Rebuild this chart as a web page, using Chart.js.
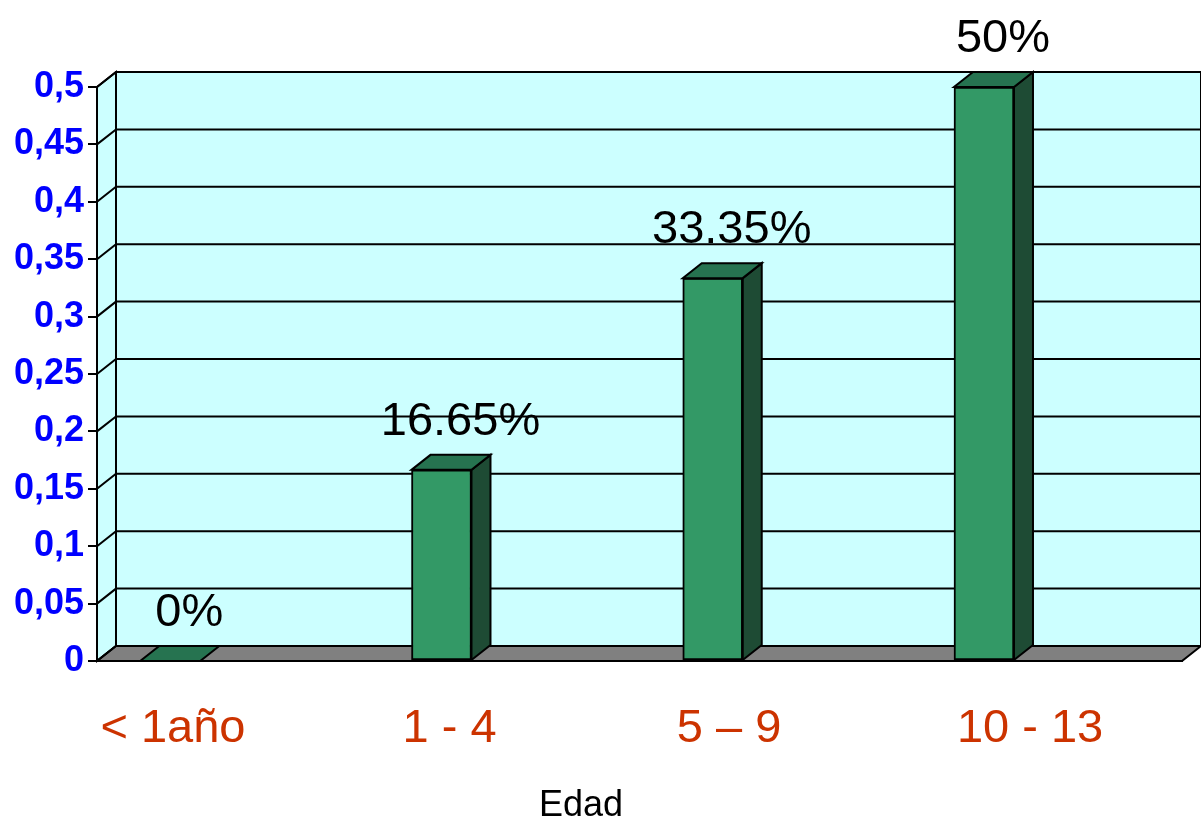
<!DOCTYPE html>
<html>
<head>
<meta charset="utf-8">
<script src="https://cdn.jsdelivr.net/npm/chart.js@4"></script>
<style>
    html, body { margin: 0; padding: 0; background: #fff; }
    #wrap { width: 1201px; height: 823px; }
</style>
</head>
<body>
<div id="wrap"><canvas id="chart" width="1201" height="823"></canvas></div>
<script>
const categories = ["< 1año", "1 - 4", "5 – 9", "10 - 13"];
const values = [0, 0.1665, 0.3335, 0.5];
const yMin = 0;
const yMax = 0.5;
const yStep = 0.05;
const axisTitle = "Edad";

// depth of the fake 3D box
const DX = 19;
const DY = -15;
// small nudges so the category labels sit where the original put them
const labelNudge = [0.01, 0.03, 0.06, 0.17];

const FONT = "'Liberation Sans', Arial, sans-serif";

function pct(v) {
    return parseFloat((v * 100).toFixed(2)) + "%";
}

function poly(ctx, pts, fill) {
    ctx.beginPath();
    ctx.moveTo(pts[0][0], pts[0][1]);
    for (let i = 1; i < pts.length; i++) ctx.lineTo(pts[i][0], pts[i][1]);
    ctx.closePath();
    if (fill) {
        ctx.fillStyle = fill;
        ctx.fill();
    }
    ctx.stroke();
}

const box3d = {
    id: "box3d",
    beforeDraw(chart) {
        const ctx = chart.ctx;
        const a = chart.chartArea;
        const y = chart.scales.y;
        ctx.save();
        ctx.strokeStyle = "#000";
        ctx.lineWidth = 2;

        // back wall
        poly(ctx, [[a.left + DX, a.top + DY], [a.right + DX, a.top + DY],
                   [a.right + DX, a.bottom + DY], [a.left + DX, a.bottom + DY]], "#CCFFFF");
        // side wall
        poly(ctx, [[a.left, a.top], [a.left + DX, a.top + DY],
                   [a.left + DX, a.bottom + DY], [a.left, a.bottom]], "#CCFFFF");
        // floor
        poly(ctx, [[a.left, a.bottom], [a.right, a.bottom],
                   [a.right + DX, a.bottom + DY], [a.left + DX, a.bottom + DY]], "#808080");

        // grid lines on side and back wall
        y.ticks.forEach(t => {
            const py = y.getPixelForValue(t.value);
            ctx.beginPath();
            ctx.moveTo(a.left, py);
            ctx.lineTo(a.left + DX, py + DY);
            ctx.lineTo(a.right + DX, py + DY);
            ctx.stroke();
        });
        ctx.restore();
    },
    afterDatasetsDraw(chart) {
        const ctx = chart.ctx;
        const bars = chart.getDatasetMeta(0).data;
        ctx.save();
        ctx.strokeStyle = "#000";
        ctx.lineWidth = 2;
        bars.forEach((bar, i) => {
            const p = bar.getProps(["x", "y", "base", "width"], true);
            const x0 = p.x - p.width / 2;
            const x1 = p.x + p.width / 2;
            const top = Math.min(p.y, p.base);
            const base = Math.max(p.y, p.base);
            if (base - top > 0.5) {
                poly(ctx, [[x1, top], [x1 + DX, top + DY], [x1 + DX, base + DY], [x1, base]], "#1E4B34");
            }
            poly(ctx, [[x0, top], [x1, top], [x1 + DX, top + DY], [x0 + DX, top + DY]], "#267350");

            ctx.fillStyle = "#000";
            ctx.font = "47px " + FONT;
            ctx.textAlign = "center";
            ctx.textBaseline = "alphabetic";
            ctx.fillText(pct(values[i]), p.x + DX, top + DY - 20);
        });

        // axis title
        ctx.fillStyle = "#000";
        ctx.font = "36px " + FONT;
        ctx.textAlign = "center";
        ctx.fillText(axisTitle, 581, 816);
        ctx.restore();
    }
};

new Chart(document.getElementById("chart").getContext("2d"), {
    type: "bar",
    data: {
        datasets: [{
            data: values.map((v, i) => ({ x: i, y: v })),
            backgroundColor: "#339966",
            borderColor: "#000",
            borderWidth: 2,
            borderSkipped: false,
            barThickness: 60
        }]
    },
    options: {
        responsive: false,
        animation: false,
        layout: { padding: { top: 87, right: 19, left: 0, bottom: 0 } },
        plugins: {
            legend: { display: false },
            tooltip: { enabled: false }
        },
        scales: {
            x: {
                type: "linear",
                min: -0.27,
                max: 3.73,
                offset: false,
                afterBuildTicks: s => {
                    s.ticks = categories.map((c, i) => ({ value: i + labelNudge[i] }));
                },
                afterFit: s => { s.height = 162; },
                grid: { display: false, drawTicks: false },
                border: { display: true, color: "#000", width: 2 },
                ticks: {
                    autoSkip: false,
                    maxRotation: 0,
                    padding: 40,
                    color: "#CC3300",
                    font: { family: FONT, size: 47 },
                    callback: (v, i) => categories[i]
                }
            },
            y: {
                min: yMin,
                max: yMax,
                afterFit: s => { s.width = 97; },
                grid: { drawOnChartArea: false, drawTicks: true, tickLength: 9, color: "#000", lineWidth: 2 },
                border: { display: true, color: "#000", width: 2 },
                ticks: {
                    stepSize: yStep,
                    padding: 4,
                    color: "#0000FF",
                    font: { family: FONT, size: 36, weight: "bold" },
                    callback: v => parseFloat(v.toFixed(2)).toString().replace(".", ",")
                }
            }
        }
    },
    plugins: [box3d]
});
</script>
</body>
</html>
